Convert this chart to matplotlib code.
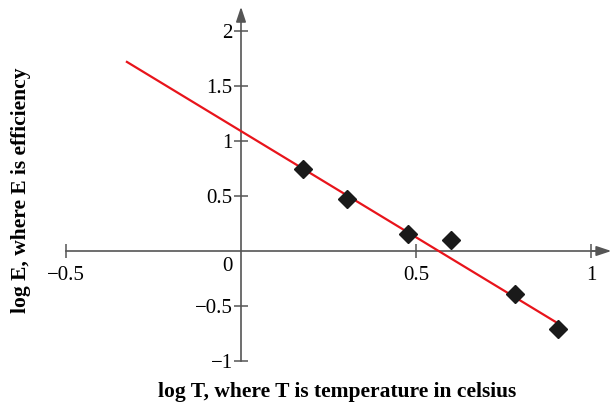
import matplotlib.pyplot as plt

# data
log_t = [0.177, 0.303, 0.477, 0.600, 0.783, 0.906]
log_e = [0.75, 0.475, 0.155, 0.10, -0.39, -0.71]
fit_x = [-0.326, 0.903]
fit_slope = -1.93
fit_icpt = 1.09
fit_y = [fit_icpt + fit_slope * v for v in fit_x]

xticks = [-0.5, 0.5, 1]
xtick_labels = ['\u22120.5', '0.5', '1']
yticks = [-1, -0.5, 0.5, 1, 1.5, 2]
ytick_labels = ['\u22121', '\u22120.5', '0.5', '1', '1.5', '2']

plt.rcParams['font.family'] = 'Liberation Serif'
axis_col = '#555555'

fig = plt.figure(figsize=(6.12, 4.05), dpi=100)
ax = fig.add_axes([0, 0, 1, 1])
ax.set_xlim(-0.6886, 1.06)
ax.set_ylim(-1.4, 2.282)

# axes through the origin
for s in ['top', 'right']:
    ax.spines[s].set_visible(False)
ax.spines['left'].set_position('zero')
ax.spines['bottom'].set_position('zero')
ax.spines['left'].set_bounds(-1, 2.15)
ax.spines['bottom'].set_bounds(-0.5, 1.02)
for s in ['left', 'bottom']:
    ax.spines[s].set_color(axis_col)
    ax.spines[s].set_linewidth(1.2)
arrow = dict(arrowstyle='-|>,head_length=0.9,head_width=0.3', color=axis_col,
             lw=1.2, shrinkA=0, shrinkB=0)
ax.annotate('', xy=(1.058, 0), xytext=(1.0, 0), arrowprops=arrow,
            annotation_clip=False)
ax.annotate('', xy=(0, 2.22), xytext=(0, 2.1), arrowprops=arrow,
            annotation_clip=False)

ax.set_xticks(xticks, xtick_labels)
ax.set_yticks(yticks, ytick_labels)
ax.tick_params(direction='inout', length=10, width=1.1, color=axis_col,
               labelsize=15)
ax.tick_params(axis='x', pad=6)
ax.tick_params(axis='y', pad=1)
ax.text(-0.025, -0.05, '0', ha='right', va='top', fontsize=15)

ax.plot(fit_x, fit_y, color='#e8141b', lw=1.6, zorder=3)
ax.plot(log_t, log_e, 'D', color='#1a1a1a', markersize=9.5, zorder=4)

fig.text(21 / 612, 1 - 190 / 405, 'log E, where E is efficiency', rotation=90,
         ha='center', va='center', fontsize=15.5, fontweight='bold')
fig.text(337 / 612, 1 - 392 / 405, 'log T, where T is temperature in celsius',
         ha='center', va='center', fontsize=15.5, fontweight='bold')

fig.savefig('out.png', dpi=100)
